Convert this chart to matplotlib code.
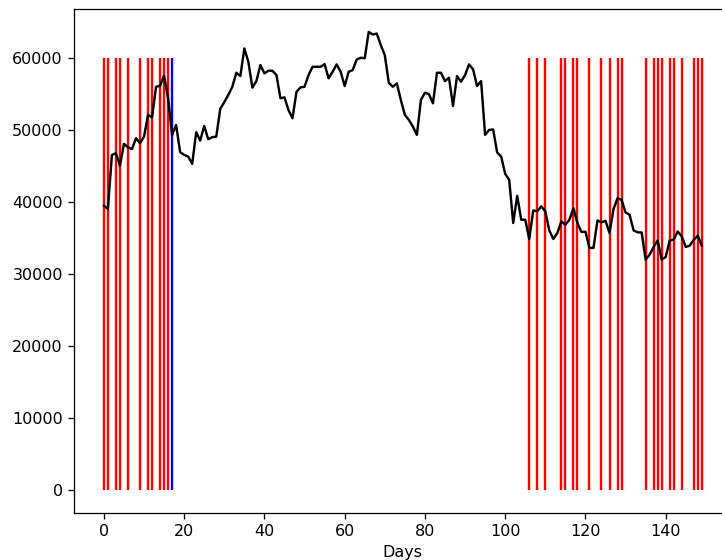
import matplotlib
matplotlib.use("Agg")
import matplotlib.pyplot as plt

# Valores diarios
precio = [39490, 39070, 46560, 46790, 45080, 48090, 47630, 47350, 48880, 48190,
          49100, 52110, 51790, 56030, 56170, 57560, 54430, 49340, 50720, 46940,
          46560, 46330, 45310, 49710, 48550, 50580, 48740, 49020, 49100, 52960,
          53890, 54890, 56030, 57980, 57520, 61360, 59500, 55900, 56820, 59050,
          57890, 58260, 58260, 57660, 54430, 54570, 52800, 51650, 55340, 55950,
          56030, 57660, 58810, 58810, 58810, 59180, 57200, 58120, 59140, 58120,
          56130, 58120, 58350, 59830, 60060, 59990, 63660, 63300, 63430, 61820,
          60430, 56590, 56030, 56500, 54190, 52110, 51420, 50490, 49340, 54190,
          55200, 55010, 53730, 57980, 57980, 56820, 57280, 53360, 57520, 56730,
          57660, 59140, 58450, 56130, 56820, 49340, 50030, 50100, 46900, 46330,
          43930, 43100, 37090, 40870, 37550, 37550, 34870, 38840, 38720, 39400,
          38720, 36060, 34870, 35700, 37310, 36850, 37550, 39170, 37090, 35840,
          35890, 33620, 33620, 37450, 37180, 37400, 35700, 39030, 40550, 40320,
          38560, 38240, 36060, 35790, 35790, 32000, 32690, 33760, 34680, 32000,
          32370, 34680, 34770, 35920, 35230, 33760, 33940, 34770, 35330, 33940]
dias = list(range(len(precio)))

# Días marcados
dias_rojos = [0, 1, 3, 4, 6, 9, 11, 12, 14, 15, 16,
              106, 108, 110, 114, 115, 117, 118, 121, 124, 126, 128, 129,
              135, 137, 138, 139, 141, 142, 144, 147, 148, 149]
dias_azules = [17]
altura = 60000

fig = plt.figure(figsize=(722 / 115, 560 / 115), dpi=115)
ax = fig.add_axes([74 / 722, 47.3 / 560, 657.7 / 722, 503.7 / 560])

ax.vlines(dias_rojos, 0, altura, color="red")
ax.vlines(dias_azules, 0, altura, color="blue")
ax.plot(dias, precio, color="black")
ax.set_xlabel("Days")

fig.savefig("out.png", dpi=115)
